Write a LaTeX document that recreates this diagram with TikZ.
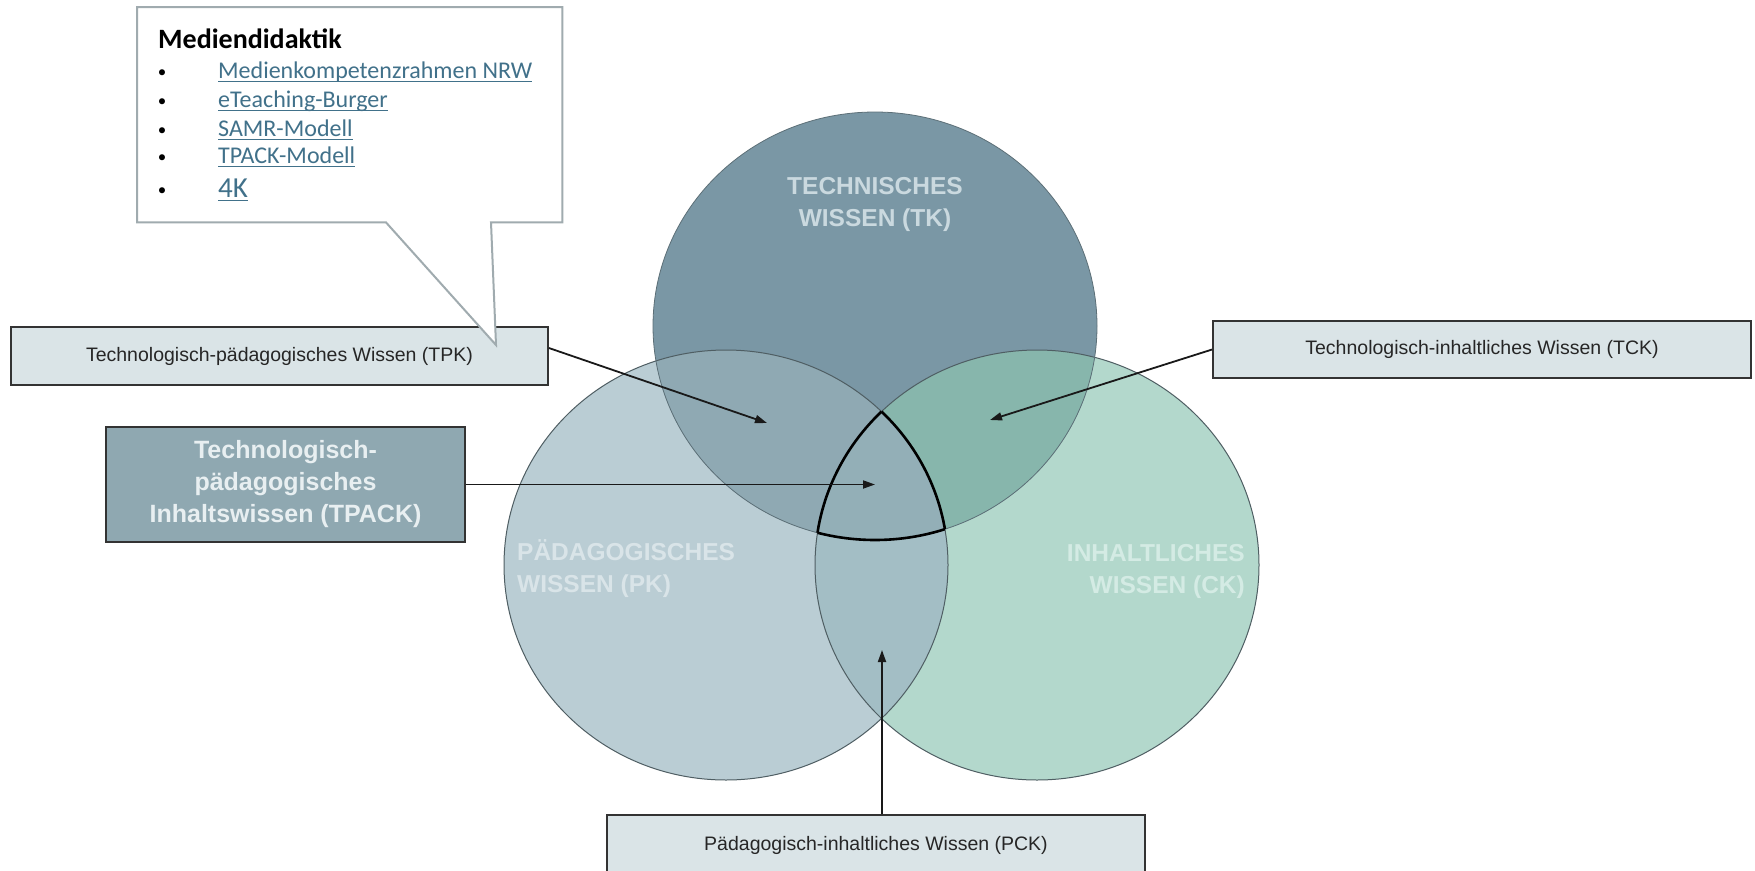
\documentclass[tikz,border=0pt]{standalone}
\usepackage{fontspec}
\setmainfont{Liberation Sans}
\newfontfamily\calibfont{Carlito}
\usetikzlibrary{arrows.meta,calc}

% fills of the Venn regions
\definecolor{tkfill}{HTML}{7A97A5}
\definecolor{pkfill}{HTML}{BACDD4}
\definecolor{ckfill}{HTML}{B3D8CC}
\definecolor{pkckfill}{HTML}{A3BEC5}
\definecolor{tkpkfill}{HTML}{8FA9B3}
\definecolor{tkckfill}{HTML}{87B6AC}
\definecolor{tpackregion}{HTML}{93AFB7}
% labels, boxes and links
\definecolor{tktext}{HTML}{CAD9DF}
\definecolor{pktext}{HTML}{D9E4E8}
\definecolor{cktext}{HTML}{D4EBE4}
\definecolor{boxfill}{HTML}{DAE4E7}
\definecolor{tpackfill}{HTML}{8FA8B1}
\definecolor{tpacktext}{HTML}{E8EFF1}
\definecolor{linkblue}{HTML}{41718A}
\definecolor{calloutgray}{HTML}{A0ABAF}
\definecolor{ringline}{HTML}{4F5E63}

\begin{document}
\begin{tikzpicture}[x=1pt,y=-1pt,
  ring/.style={draw=ringline,line width=1pt},
  tpackline/.style={draw=black,line width=2.6pt},
  circlabel/.style={font=\bfseries\fontsize{24.5pt}{32pt}\selectfont,inner sep=0pt},
  labelbox/.style={draw=black!80,line width=1.8pt,fill=boxfill,text=black!85,
    font=\fontsize{19.5pt}{23pt}\selectfont,inner sep=0pt},
  arrowline/.style={draw=black!90,line width=1.8pt,-{Triangle[length=12pt,width=8pt]}},
  calloutbox/.style={draw=calloutgray,line width=2pt,fill=white,line join=miter},
  linktext/.style={anchor=base west,inner sep=0pt,text=linkblue,
    font=\calibfont\fontsize{24pt}{28pt}\selectfont},
  bulletmark/.style={anchor=base,inner sep=0pt,font=\calibfont\fontsize{17pt}{20pt}\selectfont},
  underlined/.style={draw=linkblue,line width=1.8pt}
]
\useasboundingbox (0,0) rectangle (1755,870);
\fill[white] (0,0) rectangle (1755,870);

% centres of the three knowledge circles
\coordinate (ctk) at (875,326);
\coordinate (cpk) at (726,565);
\coordinate (cck) at (1037,565);

% single regions and the PK/CK overlap
\fill[pkfill] (cpk) ellipse [x radius=222pt, y radius=215pt];
\fill[ckfill] (cck) ellipse [x radius=222pt, y radius=215pt];
\begin{scope}
  \clip (cpk) ellipse [x radius=222pt, y radius=215pt];
  \fill[pkckfill] (cck) ellipse [x radius=222pt, y radius=215pt];
\end{scope}
\fill[tkfill] (ctk) ellipse [x radius=222pt, y radius=214pt];
\begin{scope}
  \clip (ctk) ellipse [x radius=222pt, y radius=214pt];
  \fill[tkpkfill] (cpk) ellipse [x radius=222pt, y radius=215pt];
  \fill[tkckfill] (cck) ellipse [x radius=222pt, y radius=215pt];
  \clip (cpk) ellipse [x radius=222pt, y radius=215pt];
  \fill[tpackregion] (cck) ellipse [x radius=222pt, y radius=215pt];
\end{scope}

% thin outlines
\draw[ring] (cpk) ellipse [x radius=222pt, y radius=215pt];
\draw[ring] (cck) ellipse [x radius=222pt, y radius=215pt];
\draw[ring,draw=ringline!70!tkfill,line width=0.8pt] (ctk) ellipse [x radius=222pt, y radius=214pt];

% bold outline of the common TPACK region
\begin{scope}
  \clip (cpk) ellipse [x radius=222pt, y radius=215pt];
  \clip (cck) ellipse [x radius=222pt, y radius=215pt];
  \draw[tpackline] (ctk) ellipse [x radius=222pt, y radius=214pt];
\end{scope}
\begin{scope}
  \clip (ctk) ellipse [x radius=222pt, y radius=214pt];
  \clip (cck) ellipse [x radius=222pt, y radius=215pt];
  \draw[tpackline] (cpk) ellipse [x radius=222pt, y radius=215pt];
\end{scope}
\begin{scope}
  \clip (ctk) ellipse [x radius=222pt, y radius=214pt];
  \clip (cpk) ellipse [x radius=222pt, y radius=215pt];
  \draw[tpackline] (cck) ellipse [x radius=222pt, y radius=215pt];
\end{scope}

% circle captions
\node[circlabel,text=tktext,align=center] (tklabel) at (875,204) {TECHNISCHES\\WISSEN (TK)};
\node[circlabel,text=pktext,align=left,anchor=west] (pklabel) at (517,569) {PÄDAGOGISCHES\\WISSEN (PK)};
\node[circlabel,text=cktext,align=right,anchor=east] (cklabel) at (1245,571) {INHALTLICHES\\WISSEN (CK)};

% label boxes
\node[labelbox,minimum width=537pt,minimum height=58pt] (tpk) at (279.5,356)
  {Technologisch-pädagogisches Wissen (TPK)};
\node[labelbox,minimum width=538pt,minimum height=57pt] (tck) at (1482,349.5)
  {Technologisch-inhaltliches Wissen (TCK)};
\node[labelbox,minimum width=538pt,minimum height=60pt] (pck) at (876,845)
  {Pädagogisch-inhaltliches Wissen (PCK)};
\node[labelbox,fill=tpackfill,text=tpacktext,align=center,
  font=\bfseries\fontsize{25pt}{32pt}\selectfont,
  minimum width=359pt,minimum height=115pt] (tpack) at (285.5,484.5)
  {Technologisch-\\pädagogisches\\Inhaltswissen (TPACK)};

% arrows into the overlap regions
\coordinate (tpktip) at (767,423);
\coordinate (tcktip) at (990,420);
\coordinate (tpacktip) at (875,484.5);
\coordinate (pcktip) at (882,650);
\draw[arrowline] ($(tpk.east)+(0,-8)$) -- (tpktip);
\draw[arrowline] (tck.west) -- (tcktip);
\draw[arrowline] (tpack.east) -- (tpacktip);
\draw[arrowline] (pcktip |- pck.north) -- (pcktip);

% speech bubble with the media didactics links
\node[minimum width=425pt,minimum height=215pt,inner sep=0pt,anchor=north west] (md) at (137,7) {};
\coordinate (mdtip) at (496,345);
\path[calloutbox] (md.north west) -- (md.north east) -- (md.south east)
  -- ($(md.south west)+(354,0)$) -- (mdtip) -- ($(md.south west)+(249,0)$)
  -- (md.south west) -- cycle;

\node[anchor=base west,inner sep=0pt,font=\calibfont\bfseries\fontsize{28pt}{32pt}\selectfont]
  (mdhead) at (158,48) {Mediendidaktik};

\node[bulletmark] (b1) at (162,77) {•};
\node[bulletmark] (b2) at (162,106) {•};
\node[bulletmark] (b3) at (162,135) {•};
\node[bulletmark] (b4) at (162,162) {•};
\node[bulletmark] (b5) at (162,195) {•};

\node[linktext] (l1) at (218,78) {Medienkompetenzrahmen NRW};
\node[linktext] (l2) at (218,107) {eTeaching-Burger};
\node[linktext] (l3) at (218,136) {SAMR-Modell};
\node[linktext] (l4) at (218,163) {TPACK-Modell};
\node[linktext,font=\calibfont\fontsize{29pt}{32pt}\selectfont] (l5) at (218,197) {4K};

\foreach \l in {l1,l2,l3,l4,l5}
  \draw[underlined] ([yshift=-3.5pt]\l.base west) -- ([yshift=-3.5pt]\l.base east);
\end{tikzpicture}
\end{document}
